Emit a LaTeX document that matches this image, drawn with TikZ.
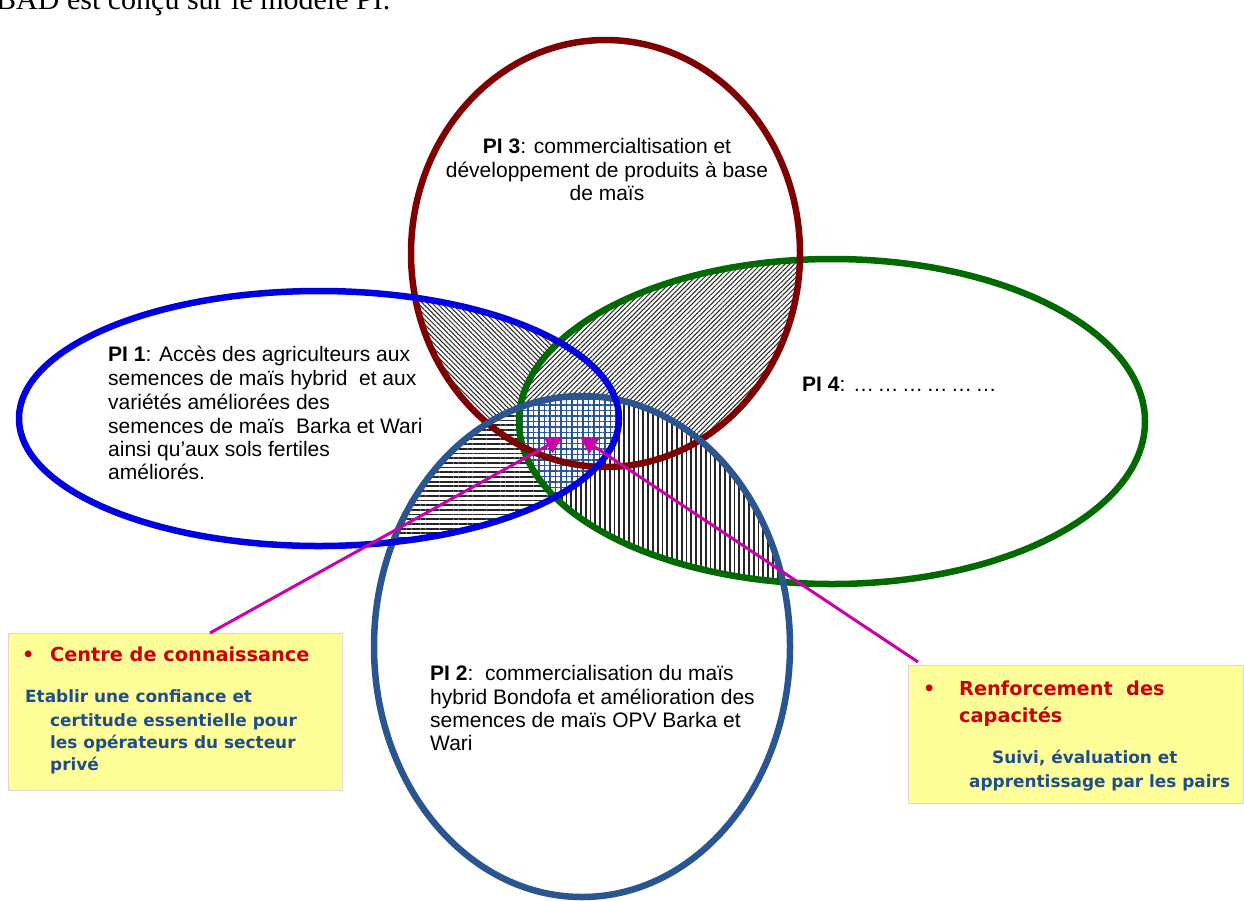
\documentclass[tikz,border=0pt]{standalone}
\usepackage{fontspec}
\setmainfont{Liberation Sans}
\newfontfamily\serifface{Liberation Serif}
\newfontfamily\boxface{DejaVu Sans}
\usetikzlibrary{patterns.meta,arrows.meta}
\definecolor{pired}{HTML}{7F0000}
\definecolor{piblue}{HTML}{0000E0}
\definecolor{pigreen}{HTML}{006A00}
\definecolor{pinavy}{HTML}{2B5591}
\definecolor{magarrow}{HTML}{CC00AA}
\definecolor{boxyellow}{HTML}{FFFF99}
\definecolor{boxred}{HTML}{CC0000}
\definecolor{boxblue}{HTML}{1F4E8C}
\def\elA{(319,418.5) ellipse [x radius=300pt, y radius=127.5pt]}
\def\elB{(582,646.5) ellipse [x radius=208pt, y radius=250.5pt]}
\def\elC{(605.5,253.5) ellipse [x radius=194.5pt, y radius=213.5pt]}
\def\elD{(832,421.5) ellipse [x radius=313pt, y radius=162.5pt]}
\begin{document}
\begin{tikzpicture}[x=1pt,y=-1pt,
  ring/.style={line width=6.5pt},
  pitext/.style={anchor=base west, inner sep=0pt, font=\fontsize{21pt}{24pt}\selectfont},
  pictext/.style={anchor=base, inner sep=0pt, font=\fontsize{21pt}{24pt}\selectfont},
  notebox/.style={fill=boxyellow, draw=black!15, line width=0.8pt, anchor=north west, inner sep=0pt},
  redline/.style={anchor=base west, inner sep=0pt, text=boxred, font=\boxface\bfseries\fontsize{19.3pt}{22pt}\selectfont},
  blueline/.style={anchor=base west, inner sep=0pt, text=boxblue, font=\boxface\bfseries\fontsize{16.9pt}{20pt}\selectfont},
  pointer/.style={draw=magarrow, line width=3pt, -{Triangle[length=17pt,width=17pt]}},
  diagNW/.style={pattern={Lines[angle=-45,distance=3.4pt,line width=1pt]}, pattern color=black!85},
  diagNE/.style={pattern={Lines[angle=45,distance=3.4pt,line width=1pt]}, pattern color=black!85},
  horiz/.style={pattern={Lines[angle=0,distance=4.7pt,line width=1.8pt]}, pattern color=black!85},
  vert/.style={pattern={Lines[angle=90,distance=4.8pt,line width=1.8pt]}, pattern color=black!85},
  gridfill/.style={pattern={Hatch[angle=0,distance=5.5pt,line width=1.2pt]}, pattern color=pinavy}
]
\useasboundingbox (0,0) rectangle (1244,900);
\clip (0,0) rectangle (1244,900);
\fill[white] (0,0) rectangle (1244,900);
% heading (cut off at top, as in the reference)
\node[anchor=base west, inner sep=0pt, font=\serifface\fontsize{30pt}{36pt}\selectfont] (heading) at (-4,9) {BAD est conçu sur le modèle PI.};
% hatched overlaps
\begin{scope}\clip \elC; \fill[diagNW] \elA; \end{scope}
\begin{scope}\clip \elC; \fill[white] \elD; \fill[diagNE] \elD; \end{scope}
\begin{scope}\clip \elA; \fill[white] \elB; \fill[horiz] \elB; \end{scope}
\begin{scope}\clip \elD; \fill[white] \elB; \fill[vert] \elB; \end{scope}
\begin{scope}\clip \elA; \clip \elB; \fill[white] \elD; \fill[gridfill] \elD; \end{scope}
% rings
\draw[ring, pigreen] \elD;
\draw[ring, pired] \elC;
\draw[ring, pinavy] \elB;
\draw[ring, piblue] \elA;
% PI 3 text
\node[pictext] (p3a) at (607,153) {\textbf{PI 3}: commercialtisation et};
\node[pictext] (p3b) at (607,177) {développement de produits à base};
\node[pictext] (p3c) at (607,200) {de maïs};
% PI 1 text
\node[pitext] (p1a) at (108,361) {\textbf{PI 1}: Accès des agriculteurs aux};
\node[pitext] (p1b) at (108,385) {semences de maïs hybrid\ \ et aux};
\node[pitext] (p1c) at (108,409) {variétés améliorées des};
\node[pitext] (p1d) at (108,433) {semences de maïs\ \ Barka et Wari};
\node[pitext] (p1e) at (108,456) {ainsi qu'aux sols fertiles};
\node[pitext] (p1f) at (108,479) {améliorés.};
% PI 4 text
\node[pitext] (p4a) at (802,391) {\textbf{PI 4}: …\,…\,…\,…\,…\,…};
% PI 2 text
\node[pitext] (p2a) at (430,680) {\textbf{PI 2}:\ \ commercialisation du maïs};
\node[pitext] (p2b) at (430,704) {hybrid Bondofa et amélioration des};
\node[pitext] (p2c) at (430,727) {semences de maïs OPV Barka et};
\node[pitext] (p2d) at (430,750) {Wari};
% note boxes
\node[notebox, minimum width=334pt, minimum height=157pt] (box1) at (8,633) {};
\node[notebox, minimum width=335pt, minimum height=138pt] (box2) at (908,665) {};
\node[redline] (b1bul) at (22,661) {•};
\node[redline] (b1t) at (50,661) {Centre de connaissance};
\node[blueline] (b1a) at (25,702) {Etablir une confiance et};
\node[blueline] (b1b) at (50,726) {certitude essentielle pour};
\node[blueline] (b1c) at (50,748) {les opérateurs du secteur};
\node[blueline] (b1d) at (50,770) {privé};
\node[redline] (b2bul) at (923,695) {•};
\node[redline] (b2t) at (959,695) {Renforcement\ \ des};
\node[redline] (b2u) at (959,722) {capacités};
\node[blueline] (b2a) at (992,763) {Suivi, évaluation et};
\node[blueline] (b2b) at (969,787) {apprentissage par les pairs};
% pointers
\coordinate (s1) at (210,633);
\coordinate (t1) at (563,437);
\coordinate (s2) at (918,662);
\coordinate (t2) at (580,437);
\draw[pointer] (s1) -- (t1);
\draw[pointer] (s2) -- (t2);
\end{tikzpicture}
\end{document}
